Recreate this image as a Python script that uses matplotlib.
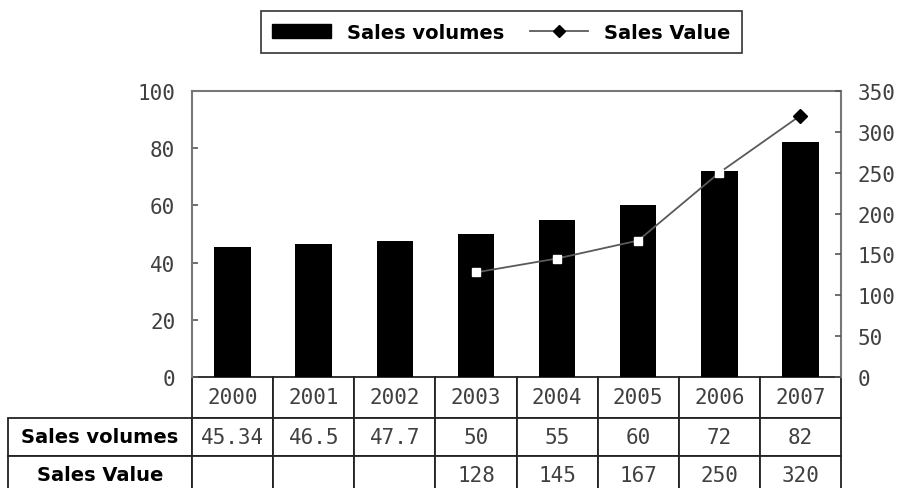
import numpy as np
import matplotlib
matplotlib.use("Agg")
from matplotlib import pyplot as plt
from matplotlib.lines import Line2D
from matplotlib.patches import Patch

years = ["2000", "2001", "2002", "2003", "2004", "2005", "2006", "2007"]
volumes = [45.34, 46.5, 47.7, 50, 55, 60, 72, 82]
volume_text = ["45.34", "46.5", "47.7", "50", "55", "60", "72", "82"]
value_years = ["2003", "2004", "2005", "2006", "2007"]
values = [128, 145, 167, 250, 320]

num_font = "DejaVu Sans Mono"
lbl_font = "DejaVu Sans"
num_color = "#404040"
num_size = 15
lbl_size = 14

W, H = 898, 489
fig = plt.figure(figsize=(W / 100, H / 100), dpi=100)
ax_l, ax_r, ax_t, ax_b = 192, 841, 92, 378
ax = fig.add_axes([ax_l / W, 1 - ax_b / H, (ax_r - ax_l) / W, (ax_b - ax_t) / H])

x = np.arange(len(years))
ax.bar(x, volumes, width=0.45, color="black", zorder=2)
ax.set_xlim(-0.5, len(years) - 0.5)
ax.set_ylim(0, 100)
ax.set_yticks(np.arange(0, 101, 20))
ax.set_xticks([])
ax.tick_params(axis="y", direction="in", length=4, width=1.2, color="#555",
               pad=12, labelsize=num_size, labelcolor=num_color)
for t in ax.get_yticklabels():
    t.set_fontfamily(num_font)
for s in ["top", "left", "right"]:
    ax.spines[s].set_color("#777")
    ax.spines[s].set_linewidth(1.5)
ax.spines["bottom"].set_visible(False)

# sales value on the secondary axis
ax2 = ax.twinx()
ax2.set_ylim(0, 350)
ax2.set_yticks(np.arange(0, 351, 50))
ax2.tick_params(axis="y", direction="in", length=4, width=1.2, color="#555",
                pad=12, labelsize=num_size, labelcolor=num_color)
for t in ax2.get_yticklabels():
    t.set_fontfamily(num_font)
for s in ax2.spines.values():
    s.set_visible(False)

vx = [years.index(y) for y in value_years]
ax2.plot(vx, values, color="#5a5a5a", lw=1.3, zorder=3)
for xi, v in zip(vx, values):
    # points lying over a bar show as a white square, the rest as black diamonds
    if v * 100 / 350 <= volumes[xi]:
        ax2.plot(xi, v, marker="s", ms=6, mfc="white", mec="white", ls="none", zorder=4)
    else:
        ax2.plot(xi, v, marker="D", ms=7, mfc="black", mec="black", ls="none", zorder=4)

# data table under the plot
rows = [[""] + years,
        ["Sales volumes"] + volume_text,
        ["Sales Value"] + ["", "", ""] + [str(v) for v in values]]
plot_w = ax_r - ax_l
lab_w = ax_l - 8
row_h = [41, 38, 38]
tbl = ax.table(cellText=rows, cellLoc="center",
               bbox=[-lab_w / plot_w, -sum(row_h) / (ax_b - ax_t),
                     1 + lab_w / plot_w, sum(row_h) / (ax_b - ax_t)])
tbl.auto_set_font_size(False)
for (r, c), cell in tbl.get_celld().items():
    cell.set_height(row_h[r])
    cell.set_width(lab_w if c == 0 else plot_w / 8)
    cell.set_edgecolor("#222")
    cell.set_linewidth(1.3)
    txt = cell.get_text()
    if c == 0:
        txt.set_fontfamily(lbl_font)
        txt.set_fontweight("bold")
        txt.set_fontsize(lbl_size)
        txt.set_color("black")
    else:
        txt.set_fontfamily(num_font)
        txt.set_fontsize(num_size)
        txt.set_color(num_color)
tbl[(0, 0)].visible_edges = ""

handles = [Patch(facecolor="black", edgecolor="black"),
           Line2D([], [], color="#5a5a5a", lw=1.3, marker="D", ms=6,
                  mfc="black", mec="black")]
leg = fig.legend(handles, ["Sales volumes", "Sales Value"], ncol=2,
                 loc="upper center", bbox_to_anchor=(501.5 / W, 1 - 12 / H),
                 borderaxespad=0, frameon=True, fancybox=False, edgecolor="black",
                 prop={"family": lbl_font, "weight": "bold", "size": lbl_size},
                 handlelength=3.0, handletextpad=0.85, columnspacing=1.3,
                 borderpad=0.6)
leg.get_frame().set_linewidth(1.2)

fig.savefig("out.png", dpi=100)
